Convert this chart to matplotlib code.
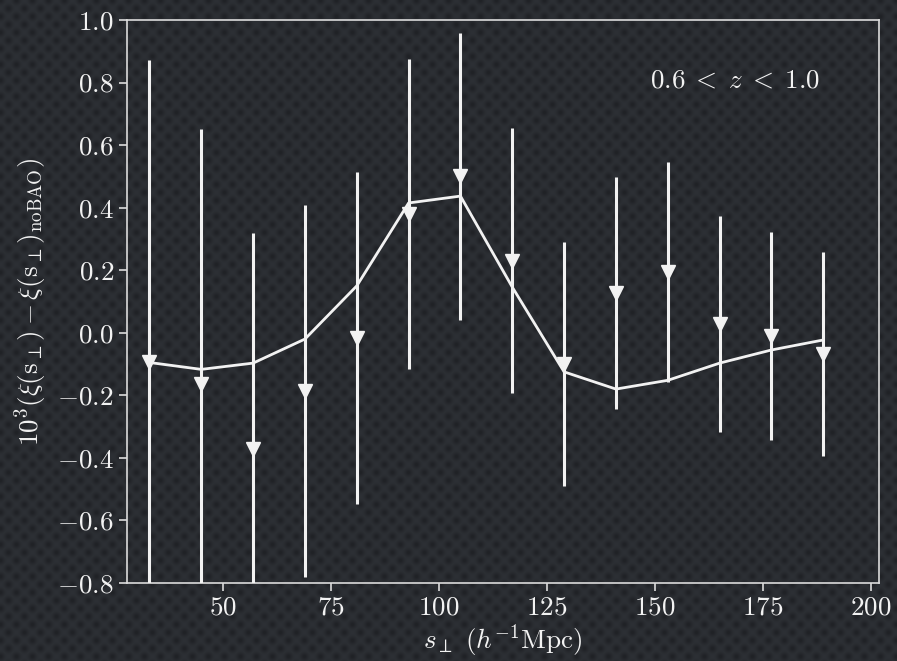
import numpy as np
import matplotlib
matplotlib.use("Agg")
import matplotlib.pyplot as plt
from matplotlib.ticker import FuncFormatter

plt.rcParams['mathtext.fontset'] = 'cm'
plt.rcParams['font.family'] = 'serif'
plt.rcParams['font.serif'] = ['cmr10', 'DejaVu Serif']

# measured points
s_perp = [33, 45, 57, 69, 81, 93, 105, 117, 129, 141, 153, 165, 177, 189]
xi_diff = [-0.093, -0.164, -0.372, -0.186, -0.017, 0.38, 0.50, 0.23,
           -0.10, 0.127, 0.194, 0.028, -0.01, -0.068]
xi_err = [0.965, 0.815, 0.69, 0.596, 0.532, 0.495, 0.459, 0.424,
          0.39, 0.372, 0.351, 0.344, 0.333, 0.325]

# model curve
model = [-0.095, -0.117, -0.097, -0.02, 0.15, 0.415, 0.437, 0.146,
         -0.125, -0.18, -0.152, -0.097, -0.055, -0.023]

yticks = [-0.8, -0.6, -0.4, -0.2, 0.0, 0.2, 0.4, 0.6, 0.8, 1.0]
xticks = [50, 75, 100, 125, 150, 175, 200]

fg = '#f2f2f2'
W, H = 897, 661

fig = plt.figure(figsize=(W / 100, H / 100), dpi=100)

# dark dotted backdrop
yy, xx = np.mgrid[0:H, 0:W].astype(float)
p = 16.0
d1 = np.hypot((xx % p) - p / 2, (yy % p) - p / 2)
d2 = np.hypot(((xx + p / 2) % p) - p / 2, ((yy + p / 2) % p) - p / 2)
dots = np.exp(-(np.minimum(d1, d2) ** 2) / (2 * 2.8 ** 2))
base = np.array([45, 48, 53]) / 255.0
dark = np.array([32, 34, 38]) / 255.0
bg = base[None, None, :] * (1 - dots[..., None]) + dark[None, None, :] * dots[..., None]
bgax = fig.add_axes([0, 0, 1, 1])
bgax.imshow(bg, aspect='auto', interpolation='bilinear')
bgax.axis('off')

ax = fig.add_axes([127 / W, 1 - 583 / H, (879 - 127) / W, (583 - 20) / H])
ax.patch.set_alpha(0)

ax.errorbar(s_perp, xi_diff, yerr=xi_err, fmt='v', color=fg, ms=10,
            elinewidth=2.2, capsize=0, zorder=3)
ax.plot(s_perp, model, color=fg, lw=2.0, zorder=4)

ax.set_xlim(27.8, 201.9)
ax.set_ylim(-0.8, 1.0)
ax.set_xticks(xticks)
ax.set_yticks(yticks)

fmt_y = FuncFormatter(lambda v, pos: r'$%.1f$' % v)
fmt_x = FuncFormatter(lambda v, pos: r'$%d$' % v)
ax.yaxis.set_major_formatter(fmt_y)
ax.xaxis.set_major_formatter(fmt_x)

for sp in ax.spines.values():
    sp.set_color('#dcdcdc')
    sp.set_linewidth(1.2)
ax.tick_params(axis='both', direction='out', length=6, width=1.2,
               colors='#dcdcdc', labelcolor=fg, labelsize=19.5)
ax.tick_params(top=False, right=False)

ax.set_xlabel(r'$s_\perp\ (h^{-1}\mathrm{Mpc})$', color=fg, fontsize=19.5,
              labelpad=2)
ax.set_ylabel(r'$10^3(\xi(\mathrm{s}_\perp) - \xi(\mathrm{s}_\perp)_{\rm noBAO})$',
              color=fg, fontsize=19.5, labelpad=6)

ax.text(0.922, 0.893, r'$0.6\;<\;z\;<\;1.0$', transform=ax.transAxes,
        ha='right', va='center', color=fg, fontsize=19.5)

fig.savefig('out.png', dpi=100)
